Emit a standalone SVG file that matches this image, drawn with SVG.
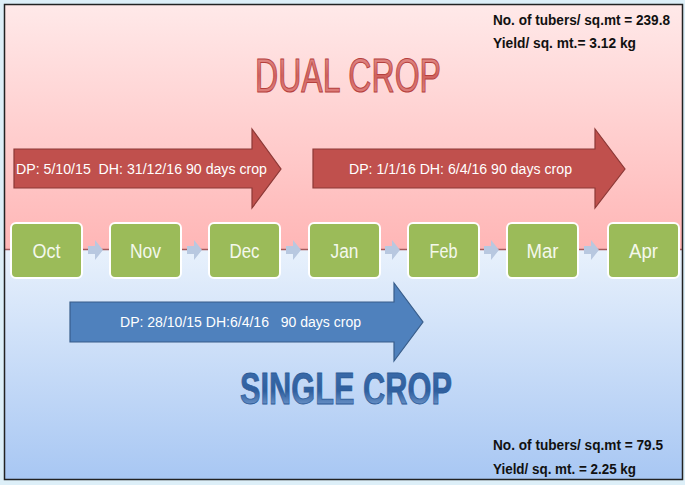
<svg xmlns="http://www.w3.org/2000/svg" width="685" height="485" viewBox="0 0 685 485">
  <defs>
    <linearGradient id="dualBg" x1="0" y1="0" x2="0" y2="1">
      <stop offset="0" stop-color="#ffe9e9"/>
      <stop offset="1" stop-color="#ffb6b6"/>
    </linearGradient>
    <linearGradient id="singleBg" x1="0" y1="0" x2="0" y2="1">
      <stop offset="0" stop-color="#e8f1fc"/>
      <stop offset="1" stop-color="#a8c7f3"/>
    </linearGradient>
    <linearGradient id="dualTitle" x1="0" y1="0" x2="0" y2="1">
      <stop offset="0" stop-color="#e89a97"/>
      <stop offset="0.5" stop-color="#d0625f"/>
      <stop offset="1" stop-color="#e58e8b"/>
    </linearGradient>
    <linearGradient id="singleTitle" x1="0" y1="0" x2="0" y2="1">
      <stop offset="0" stop-color="#3f6fae"/>
      <stop offset="0.55" stop-color="#2f5f9f"/>
      <stop offset="1" stop-color="#8fb2e0"/>
    </linearGradient>
    <style>
      .month rect { fill: #9bbb59; stroke: #ffffff; stroke-width: 2; }
      .month text { font-family: "Liberation Sans", Arial, sans-serif; font-size: 20px; fill: #f4f8ec; text-anchor: middle; }
      .red { fill: #c0504d; stroke: #8c3836; stroke-width: 1.2; }
      .blue { fill: #4f81bd; stroke: #385d8a; stroke-width: 1.2; }
      .atext { font-family: "Liberation Sans", Arial, sans-serif; font-size: 14px; fill: #ffffff; white-space: pre; }
      .stat { font-family: "Liberation Sans", Arial, sans-serif; font-size: 14px; font-weight: bold; fill: #111111; }
      .step { fill: #b8c8e0; }
    </style>
  </defs>

  <!-- page frame -->
  <rect x="0" y="0" width="685" height="485" fill="#ddeff8"/>
  <rect x="5" y="5" width="677" height="244" fill="url(#dualBg)"/>
  <rect x="5" y="249" width="677" height="230" fill="url(#singleBg)"/>
  <line x1="5" y1="249.5" x2="682" y2="249.5" stroke="#a45a5c" stroke-width="1.5"/>
  <rect x="4.5" y="4.5" width="678" height="475" fill="none" stroke="#222222" stroke-width="1.5"/>

  <!-- headings -->
  <text x="255" y="92" font-family="'Liberation Sans', Arial, sans-serif" font-size="48" fill="url(#dualTitle)" stroke="#b5403d" stroke-width="1" textLength="186" lengthAdjust="spacingAndGlyphs">DUAL CROP</text>
  <text x="240" y="404" font-family="'Liberation Sans', Arial, sans-serif" font-size="45" font-weight="bold" fill="url(#singleTitle)" stroke="#2c5a96" stroke-width="0.8" textLength="212" lengthAdjust="spacingAndGlyphs">SINGLE CROP</text>

  <!-- yield figures -->
  <g id="dual-stats">
    <text class="stat" x="493" y="25" textLength="177" lengthAdjust="spacingAndGlyphs">No. of tubers/ sq.mt = 239.8</text>
    <text class="stat" x="493" y="48" textLength="143" lengthAdjust="spacingAndGlyphs">Yield/ sq. mt.= 3.12 kg</text>
  </g>
  <g id="single-stats">
    <text class="stat" x="493" y="450" textLength="170" lengthAdjust="spacingAndGlyphs">No. of tubers/ sq.mt = 79.5</text>
    <text class="stat" x="493" y="474" textLength="143" lengthAdjust="spacingAndGlyphs">Yield/ sq. mt. = 2.25 kg</text>
  </g>

  <!-- crop period arrows -->
  <g id="crop-dual-1">
    <path class="red" d="M14,149 H252 V129 L281,169 L252,208 V188 H14 Z"/>
    <text class="atext" x="16" y="174" textLength="251" lengthAdjust="spacingAndGlyphs">DP: 5/10/15  DH: 31/12/16 90 days crop</text>
  </g>
  <g id="crop-dual-2">
    <path class="red" d="M313,149 H595 V129 L625,169 L595,208 V188 H313 Z"/>
    <text class="atext" x="349" y="174" textLength="223" lengthAdjust="spacingAndGlyphs">DP: 1/1/16 DH: 6/4/16 90 days crop</text>
  </g>
  <g id="crop-single">
    <path class="blue" d="M70,302 H394 V283 L423,322 L394,361 V342 H70 Z"/>
    <text class="atext" x="120" y="327" textLength="241" lengthAdjust="spacingAndGlyphs">DP: 28/10/15 DH:6/4/16   90 days crop</text>
  </g>

  <!-- month-to-month steps -->
  <g id="connectors">
    <path class="step" d="M88,246 H95 V240 L103,250 L95,260 V254 H88 Z"/>
    <path class="step" d="M187,246 H194 V240 L202,250 L194,260 V254 H187 Z"/>
    <path class="step" d="M286,246 H293 V240 L301,250 L293,260 V254 H286 Z"/>
    <path class="step" d="M385,246 H392 V240 L400,250 L392,260 V254 H385 Z"/>
    <path class="step" d="M484,246 H491 V240 L499,250 L491,260 V254 H484 Z"/>
    <path class="step" d="M584,246 H591 V240 L599,250 L591,260 V254 H584 Z"/>
  </g>

  <!-- months -->
  <g id="oct" class="month"><rect x="11" y="223" width="71" height="55" rx="5"/><text x="46.5" y="258" textLength="28" lengthAdjust="spacingAndGlyphs">Oct</text></g>
  <g id="nov" class="month"><rect x="110" y="223" width="71" height="55" rx="5"/><text x="145.5" y="258" textLength="31" lengthAdjust="spacingAndGlyphs">Nov</text></g>
  <g id="dec" class="month"><rect x="209" y="223" width="71" height="55" rx="5"/><text x="244.5" y="258" textLength="30" lengthAdjust="spacingAndGlyphs">Dec</text></g>
  <g id="jan" class="month"><rect x="309" y="223" width="71" height="55" rx="5"/><text x="344.5" y="258" textLength="28" lengthAdjust="spacingAndGlyphs">Jan</text></g>
  <g id="feb" class="month"><rect x="408" y="223" width="71" height="55" rx="5"/><text x="443.5" y="258" textLength="28" lengthAdjust="spacingAndGlyphs">Feb</text></g>
  <g id="mar" class="month"><rect x="507" y="223" width="71" height="55" rx="5"/><text x="542.5" y="258" textLength="32" lengthAdjust="spacingAndGlyphs">Mar</text></g>
  <g id="apr" class="month"><rect x="608" y="223" width="71" height="55" rx="5"/><text x="643.5" y="258" textLength="29" lengthAdjust="spacingAndGlyphs">Apr</text></g>
</svg>
